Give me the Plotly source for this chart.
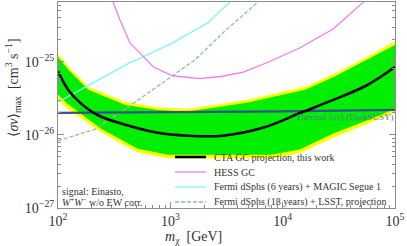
import plotly.graph_objects as go

# ---------------- data ----------------
# CTA GC projection (median)
m_cta = [100, 123, 158, 227, 398, 776, 1413, 2951, 6761, 14791, 28184, 56234, 100000]
sv_cta = [7.41e-26, 4.17e-26, 2.75e-26, 1.86e-26, 1.38e-26, 1.07e-26, 9.77e-27,
          9.77e-27, 1.26e-26, 2.04e-26, 3.02e-26, 4.79e-26, 8.51e-26]

# bands: upper and lower edges
m_up = [100, 126, 186, 398, 776, 1445, 4786, 15849, 28184, 56234, 100000]
sv_green_up = [1.17e-25, 7.59e-26, 4.17e-26, 2.57e-26, 2.19e-26, 2.09e-26, 2.75e-26,
               4.17e-26, 6.17e-26, 1.07e-25, 1.70e-25]
sv_yellow_up = [1.29e-25, 8.32e-26, 4.57e-26, 2.82e-26, 2.40e-26, 2.29e-26, 3.02e-26,
                4.57e-26, 6.76e-26, 1.17e-25, 1.91e-25]
m_lo = [100, 123, 240, 513, 955, 1995, 7943, 14125, 28184, 56234, 100000]
sv_green_lo = [3.55e-26, 2.63e-26, 1.23e-26, 6.46e-27, 5.37e-27, 5.37e-27, 5.37e-27,
               6.31e-27, 1.05e-26, 1.58e-26, 2.29e-26]
sv_yellow_lo = [3.02e-26, 2.24e-26, 1.10e-26, 5.75e-27, 4.79e-27, 4.79e-27, 4.79e-27,
                5.62e-27, 9.12e-27, 1.41e-26, 2.04e-26]

# HESS GC
m_hess = [295, 309, 355, 437, 537, 708, 1047, 1820, 2818, 4467, 7762, 14125, 28184,
          39811, 52481, 55000]
sv_hess = [9.0e-25, 6.61e-25, 3.80e-25, 1.82e-25, 1.32e-25, 8.51e-26, 6.46e-26, 5.89e-26,
           6.31e-26, 7.24e-26, 1.02e-25, 1.55e-25, 2.82e-25, 4.57e-25, 6.61e-25, 9.0e-25]

# Fermi dSphs (6 years) + MAGIC Segue 1
m_fermi6 = [100, 200, 437, 537, 1047, 2138, 3388, 4000]
sv_fermi6 = [2.82e-26, 5.01e-26, 9.77e-26, 1.12e-25, 1.82e-25, 3.39e-25, 6.61e-25, 9.0e-25]

# Fermi dSphs (18 years) + LSST, projection
m_fermi18 = [100, 214, 437, 724, 1047, 1660, 2951, 6026, 7000]
sv_fermi18 = [8.32e-27, 1.20e-26, 2.51e-26, 4.27e-26, 6.46e-26, 1.07e-25, 2.51e-25,
              6.61e-25, 9.0e-25]

# Thermal <sigma v> (DarkSUSY)
m_thermal = [100, 1000, 10000, 100000]
sv_thermal = [2.0e-26, 2.03e-26, 2.1e-26, 2.2e-26]

x_tickvals = [1e2, 1e3, 1e4, 1e5]
x_ticktext = ["10<sup>2</sup>", "10<sup>3</sup>", "10<sup>4</sup>", "10<sup>5</sup>"]
y_tickvals = [1e-27, 1e-26, 1e-25]
y_ticktext = ["10<sup>−27</sup>", "10<sup>−26</sup>", "10<sup>−25</sup>"]

legend_labels = ["CTA GC projection, this work", "HESS GC",
                 "Fermi dSphs (6 years) + MAGIC Segue 1",
                 "Fermi dSphs (18 years) + LSST, projection"]

# ---------------- figure ----------------
FONT = "Liberation Serif, DejaVu Serif, serif"
TXT = "#333333"
FRAME = "#8c8c8c"
L, R, T, B, W, H = 58, 12, 2, 38, 407, 246
PW, PH = W - L - R, H - T - B


def px(xp):
    return (xp - L) / PW


def py(yp):
    return (H - B - yp) / PH


fig = go.Figure()

fig.add_trace(go.Scatter(x=m_up + m_lo[::-1], y=sv_yellow_up + sv_yellow_lo[::-1],
                         fill="toself", fillcolor="#ffff00", line=dict(width=0),
                         mode="lines", hoverinfo="skip"))
fig.add_trace(go.Scatter(x=m_up + m_lo[::-1], y=sv_green_up + sv_green_lo[::-1],
                         fill="toself", fillcolor="#00ee00", line=dict(width=0),
                         mode="lines", hoverinfo="skip"))

styles = [
    (m_fermi18, sv_fermi18, dict(color="#8fc48f", width=1.3, dash="4px,2px")),
    (m_fermi6, sv_fermi6, dict(color="#7ff7f7", width=1.3)),
    (m_hess, sv_hess, dict(color="#f07cf0", width=1.3)),
]
for mx, sv, ln in styles:
    fig.add_trace(go.Scatter(x=mx, y=sv, mode="lines", line=ln))

fig.add_trace(go.Scatter(x=m_thermal, y=sv_thermal, mode="lines",
                         line=dict(color="#3a4f8f", width=2.2)))
fig.add_trace(go.Scatter(x=m_cta, y=sv_cta, mode="lines", line=dict(color="black", width=2.6),
                         line_shape="spline"))

minor_x = [k * 10 ** d for d in (2, 3, 4) for k in range(2, 10)]
minor_y = [k * 10.0 ** d for d in (-27, -26, -25) for k in range(2, 10)]

fig.update_xaxes(type="log", range=[2, 5], tickmode="array", tickvals=x_tickvals,
                 ticktext=x_ticktext, ticks="inside", ticklen=6, tickcolor=FRAME,
                 showline=True, linecolor=FRAME, linewidth=1, mirror=True, showgrid=False,
                 zeroline=False, automargin=False,
                 tickfont=dict(family=FONT, size=14, color=TXT),
                 minor=dict(tickmode="array", tickvals=minor_x, ticks="inside", ticklen=3,
                            tickcolor=FRAME, showgrid=False))
fig.update_yaxes(type="log", range=[-27, -24.18], tickmode="array", tickvals=y_tickvals,
                 ticktext=y_ticktext, ticks="inside", ticklen=6, tickcolor=FRAME,
                 showline=True, linecolor=FRAME, linewidth=1, mirror="allticks",
                 showgrid=False, zeroline=False, automargin=False,
                 tickfont=dict(family=FONT, size=14, color=TXT),
                 minor=dict(tickmode="array", tickvals=minor_y, ticks="inside", ticklen=3,
                            tickcolor=FRAME, showgrid=False))

fig.update_layout(width=W, height=H, margin=dict(l=L, r=R, t=T, b=B, autoexpand=False),
                  showlegend=False, plot_bgcolor="white", paper_bgcolor="white")

leg_colors = [dict(color="black", width=2.6), dict(color="#f07cf0", width=1.3),
              dict(color="#7ff7f7", width=1.3), dict(color="#8fc48f", width=1.3, dash="4px,2px")]
rows = [157, 172, 187, 202]
for lab, ln, ry in zip(legend_labels, leg_colors, rows):
    fig.add_shape(type="line", xref="paper", yref="paper", x0=px(175), x1=px(206),
                  y0=py(ry), y1=py(ry), line=ln)
    fig.add_annotation(xref="paper", yref="paper", x=px(212), y=py(ry), text=lab,
                       showarrow=False, xanchor="left", yanchor="middle",
                       font=dict(family=FONT, size=10, color=TXT))

fig.add_annotation(xref="paper", yref="paper", x=px(395), y=py(116.5),
                   text="Thermal ⟨<i>σv</i>⟩ (DarkSUSY)", showarrow=False,
                   xanchor="right", yanchor="middle",
                   font=dict(family=FONT, size=9, color="#4f8088"))

fig.add_annotation(xref="paper", yref="paper", x=px(60), y=py(191), text="signal: Einasto,",
                   showarrow=False, xanchor="left", yanchor="middle",
                   font=dict(family=FONT, size=10, color=TXT))
fig.add_annotation(xref="paper", yref="paper", x=px(60), y=py(201.5),
                   text="<i>W</i><sup>+</sup><i>W</i><sup>−</sup> w/o EW corr.",
                   showarrow=False, xanchor="left", yanchor="middle",
                   font=dict(family=FONT, size=10, color=TXT))

fig.add_annotation(xref="paper", yref="paper", x=px(193), y=py(237),
                   text="<i>m</i><sub>χ</sub>  [GeV]", showarrow=False,
                   xanchor="center", yanchor="middle",
                   font=dict(family=FONT, size=14, color=TXT))
fig.add_annotation(xref="paper", yref="paper", x=px(13), y=py(88),
                   text="⟨<i>σv</i>⟩<sub>max</sub>  [cm<sup>3</sup> s<sup>−1</sup>]",
                   showarrow=False, textangle=-90, xanchor="center", yanchor="middle",
                   font=dict(family=FONT, size=14, color=TXT))

fig.write_html("out.html", config={"displayModeBar": False},
               post_script="document.body.style.margin='0';")
